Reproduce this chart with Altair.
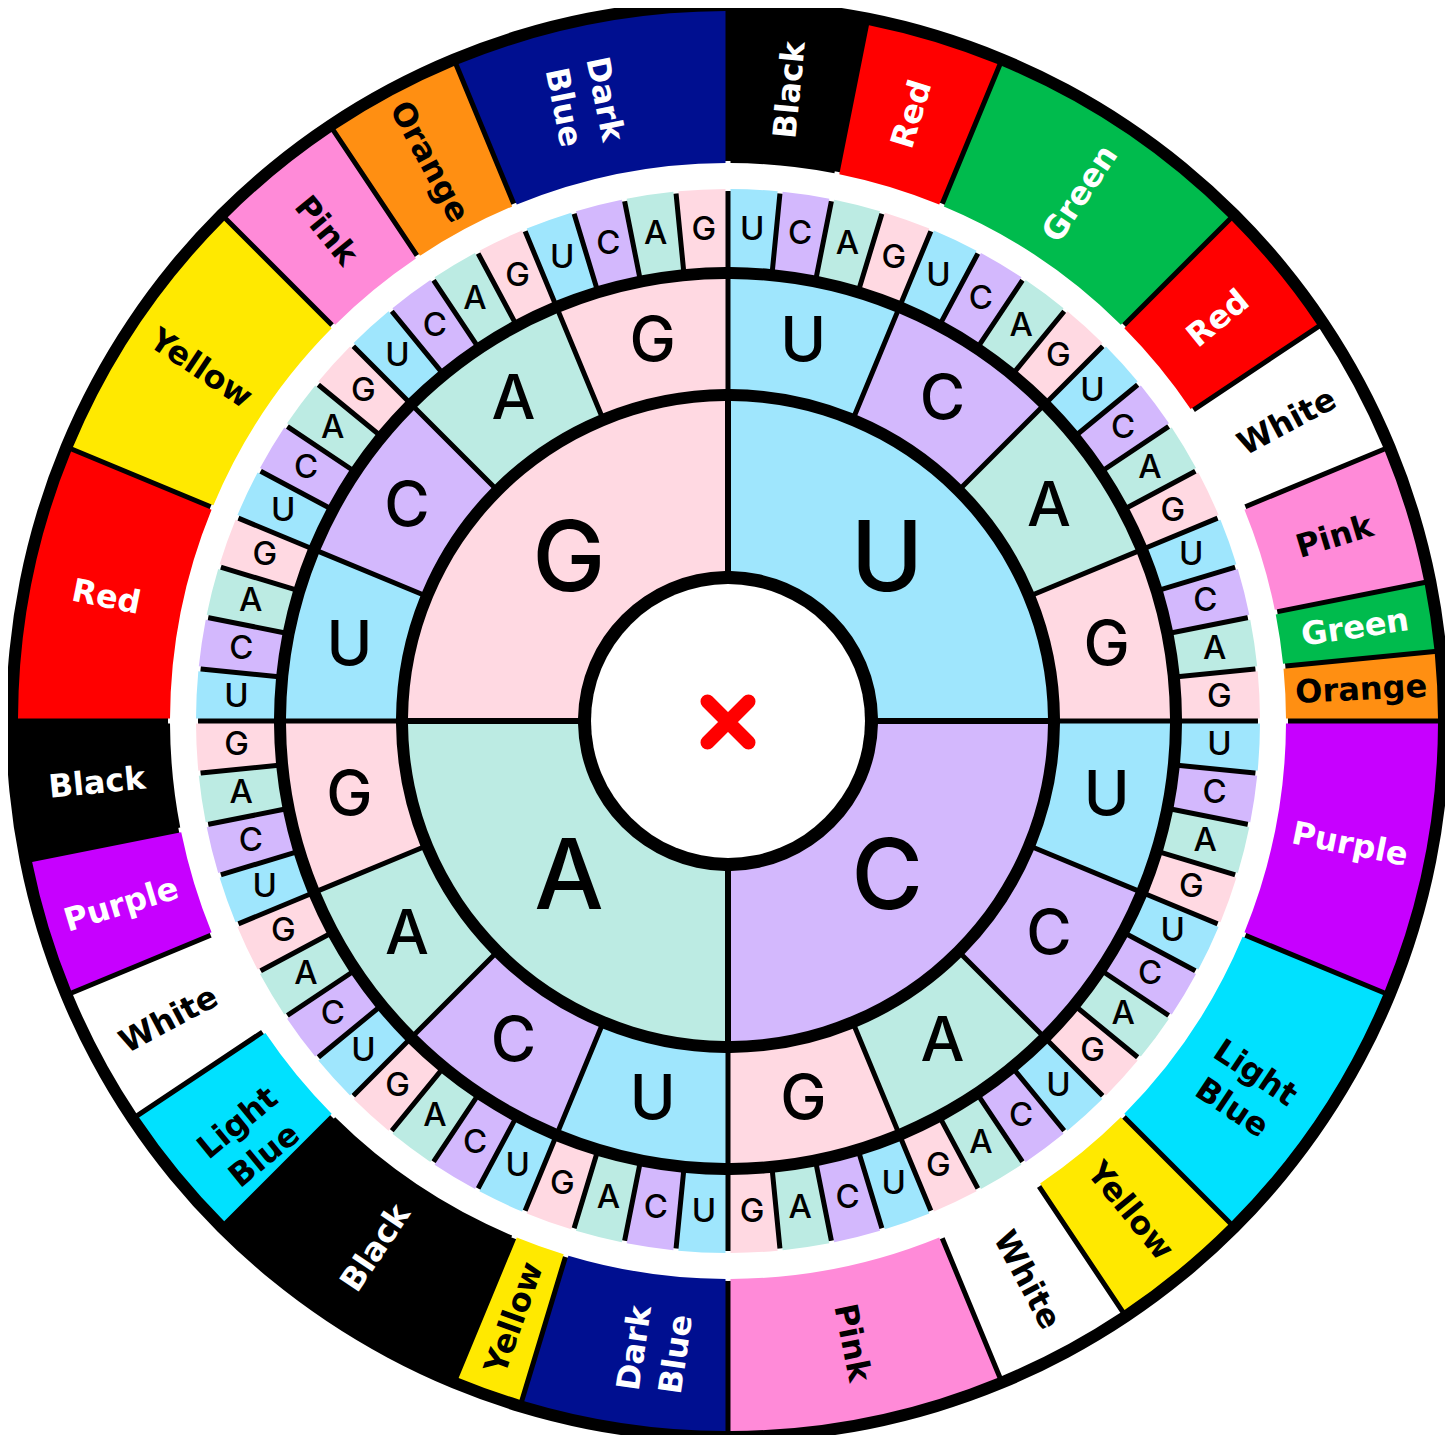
import math
import altair as alt
import pandas as pd

# ---------------- data ----------------
BASES = ["U", "C", "A", "G"]
BASE_FILL = {"U": "#9FE6FD", "C": "#D3B8FD", "A": "#BCEBE3", "G": "#FFD9E2"}

# outer ring: colour groups clockwise from 12 o'clock, with codon counts
GROUP_NAMES = ["Black", "Red", "Green", "Red", "White", "Pink", "Green", "Orange",
               "Purple", "Light Blue", "Yellow", "White", "Pink",
               "Dark Blue", "Yellow", "Black", "Light Blue", "White", "Purple", "Black",
               "Red", "Yellow", "Pink", "Orange", "Dark Blue"]
GROUP_COUNTS = [2, 2, 4, 2, 2, 2, 1, 1,
                4, 4, 2, 2, 4,
                3, 1, 4, 2, 2, 2, 2,
                4, 4, 2, 2, 4]
GROUP_FILL = {"Black": "#000000", "Red": "#FF0000", "Green": "#00BB4D", "White": "#FFFFFF",
              "Pink": "#FF8AD8", "Orange": "#FF8F12", "Purple": "#C700FF",
              "Light Blue": "#00E1FF", "Yellow": "#FFE900", "Dark Blue": "#000F90"}
GROUP_TEXT = {"Black": "#FFFFFF", "Red": "#FFFFFF", "Green": "#FFFFFF", "Purple": "#FFFFFF",
              "Dark Blue": "#FFFFFF", "White": "#000000", "Pink": "#000000",
              "Orange": "#000000", "Light Blue": "#000000", "Yellow": "#000000"}

# ---------------- layout ----------------
CX, CY = 720, 713
TWO_PI = 2 * math.pi
R_CENTER = 137
R1 = (150, 320)
R2 = (332, 442)
R3 = (454, 532)
R_OUT = (558, 710)
R_OUT_BORDER = (560, 722)

discs = pd.DataFrame([
    {"t0": 0, "t1": TWO_PI, "r0": 0, "r1": 530, "fill": "#000000"},
    {"t0": 0, "t1": TWO_PI, "r0": 0, "r1": R_CENTER, "fill": "#FFFFFF"},
    {"t0": 0, "t1": TWO_PI, "r0": R_OUT_BORDER[0], "r1": R_OUT_BORDER[1], "fill": "#000000"},
])


def ring(level, radii, rtext):
    n = 4 ** level
    step = TWO_PI / n
    rows = []
    for i in range(n):
        letter = BASES[i % 4]
        rows.append({"t0": i * step, "t1": (i + 1) * step, "tm": (i + 0.5) * step,
                     "r0": radii[0], "r1": radii[1], "rt": rtext,
                     "fill": BASE_FILL[letter], "letter": letter})
    return pd.DataFrame(rows)


ring1 = ring(1, R1, 225)
ring2 = ring(2, R2, 386)
ring3 = ring(3, R3, 492)

step64 = TWO_PI / 64
rows = []
acc = 0
for name, cnt in zip(GROUP_NAMES, GROUP_COUNTS):
    t0 = acc * step64
    t1 = (acc + cnt) * step64
    acc += cnt
    mid = (t0 + t1) / 2
    deg = math.degrees(mid)
    rot = (deg - 90) % 360 if deg < 180 else (deg - 270) % 360
    rows.append({"t0": t0, "t1": t1, "tm": mid, "r0": R_OUT[0], "r1": R_OUT[1],
                 "rt": 634, "fill": GROUP_FILL[name], "tc": GROUP_TEXT[name],
                 "label": name.replace(" ", "\n"), "rot": rot})
outer = pd.DataFrame(rows)


def arcs(df, pad):
    return alt.Chart(df).mark_arc(padAngle=pad).encode(
        x=alt.value(CX), y=alt.value(CY),
        theta=alt.Theta("t0:Q", scale=None, stack=None), theta2="t1:Q",
        radius=alt.Radius("r1:Q", scale=None), radius2="r0:Q",
        color=alt.Color("fill:N", scale=None),
    )


def letters(df, size, weight):
    return alt.Chart(df).mark_text(font="Inter", fontSize=size, fontWeight=weight,
                                   align="center", baseline="middle", color="#000000").encode(
        x=alt.value(CX), y=alt.value(CY),
        theta=alt.Theta("tm:Q", scale=None, stack=None),
        radius=alt.Radius("rt:Q", scale=None),
        text="letter:N",
    )


disc_layer = alt.Chart(discs).mark_arc().encode(
    x=alt.value(CX), y=alt.value(CY),
    theta=alt.Theta("t0:Q", scale=None, stack=None), theta2="t1:Q",
    radius=alt.Radius("r1:Q", scale=None), radius2="r0:Q",
    color=alt.Color("fill:N", scale=None),
)

outer_labels = alt.Chart(outer).mark_text(font="DejaVu Sans", fontSize=32, fontWeight="bold",
                                          align="center", baseline="middle",
                                          lineBreak="\n", lineHeight=42).encode(
    x=alt.value(CX), y=alt.value(CY),
    theta=alt.Theta("tm:Q", scale=None, stack=None),
    radius=alt.Radius("rt:Q", scale=None),
    angle=alt.Angle("rot:Q", scale=None),
    color=alt.Color("tc:N", scale=None),
    text="label:N",
)

cross = alt.Chart(pd.DataFrame({"k": [0]})).mark_point(
    shape="M-1,-1L1,1M1,-1L-1,1", size=1681, strokeWidth=14, strokeCap="round",
    filled=False, color="#FF0000", opacity=1,
).encode(x=alt.value(CX), y=alt.value(CY + 1))

chart = alt.layer(
    disc_layer,
    arcs(ring1, 6 / math.hypot(*R1)),
    arcs(ring2, 5 / math.hypot(*R2)),
    arcs(ring3, 5 / math.hypot(*R3)),
    arcs(outer, 5 / math.hypot(*R_OUT)),
    letters(ring1, 98, 500),
    letters(ring2, 62, 500),
    letters(ring3, 33, 500),
    outer_labels,
    cross,
).properties(width=1437, height=1427, padding=0, autosize="none").configure_view(stroke=None)

chart.save("out.html", embed_options={"renderer": "svg", "actions": False})
